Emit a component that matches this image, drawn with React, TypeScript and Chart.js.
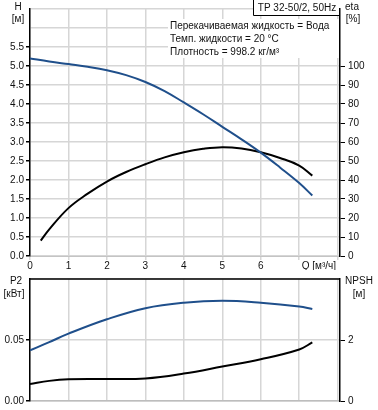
import React, { useEffect, useRef } from 'react';
import { Chart, registerables } from 'chart.js';

Chart.register(...registerables);

// ---- Data ----
const headFlow = [0, 0.5, 1, 1.5, 2, 2.5, 3, 3.5, 4, 4.5, 5, 5.5, 6, 6.5, 7, 7.34];
const headValues = [5.2, 5.12, 5.05, 4.98, 4.89, 4.76, 4.58, 4.34, 4.04, 3.73, 3.4, 3.07, 2.72, 2.33, 1.92, 1.59];

const etaFlow = [0.28, 0.5, 1, 1.5, 2, 2.5, 3, 3.5, 4, 4.5, 5, 5.5, 6, 6.5, 7, 7.34];
const etaValues = [8.1, 14, 25.2, 32.8, 39.2, 44.2, 48.3, 51.9, 54.6, 56.4, 57.3, 56.6, 54.6, 51.6, 47.6, 42.3];

const p2Flow = [0, 0.5, 1, 2, 3, 4, 5, 6, 7, 7.34];
const p2Values = [0.0416, 0.0482, 0.0552, 0.067, 0.0761, 0.0806, 0.0822, 0.0806, 0.0775, 0.0754];

const npshFlow = [0, 0.5, 1, 2, 3, 4, 5, 6, 7, 7.34];
const npshValues = [0.56, 0.66, 0.71, 0.72, 0.74, 0.9, 1.13, 1.37, 1.69, 1.92];

const xTickLabels = ['0', '1', '2', '3', '4', '5', '6'];
const headerText = 'TP 32-50/2, 50Hz';
const infoLines = [
  'Перекачиваемая жидкость = Вода',
  'Темп. жидкости = 20 °C',
  'Плотность = 998.2 кг/м³',
];

const FONT_FAMILY = '"Liberation Sans", Arial, sans-serif';
const TXT = '#111';
const GRID = '#d6d6d6';
const BLUE = '#1f4f8b';

const pts = (xs: number[], ys: number[]) => xs.map((x, i) => ({ x, y: ys[i] }));

export default function App() {
  const topRef = useRef<HTMLCanvasElement | null>(null);
  const botRef = useRef<HTMLCanvasElement | null>(null);

  useEffect(() => {
    const font = { family: FONT_FAMILY, size: 10 };

    const topTexts = {
      id: 'topTexts',
      afterDraw(chart: any) {
        const ctx = chart.ctx;
        ctx.save();
        ctx.fillStyle = '#fff';
        ctx.fillRect(168, 19, 171, 39);
        ctx.font = `10px ${FONT_FAMILY}`;
        ctx.fillStyle = TXT;
        ctx.textBaseline = 'middle';
        ctx.textAlign = 'left';
        infoLines.forEach((t, i) => ctx.fillText(t, 170, 26.5 + i * 13));
        ctx.fillStyle = '#fff';
        ctx.fillRect(253, 0, 86, 15);
        ctx.strokeStyle = '#000';
        ctx.lineWidth = 1;
        ctx.beginPath();
        ctx.moveTo(253.5, 0);
        ctx.lineTo(253.5, 15.5);
        ctx.lineTo(340, 15.5);
        ctx.stroke();
        ctx.fillStyle = TXT;
        ctx.textAlign = 'center';
        ctx.fillText(headerText, 297, 8);
        ctx.fillText('H', 18, 7);
        ctx.fillText('[м]', 18, 19.5);
        ctx.fillText('eta', 352, 7);
        ctx.fillText('[%]', 353, 19.5);
        ctx.textAlign = 'right';
        ctx.fillText('Q [м³/ч]', 336, 266);
        ctx.restore();
      },
    };

    const botTexts = {
      id: 'botTexts',
      afterDraw(chart: any) {
        const ctx = chart.ctx;
        const a = chart.chartArea;
        ctx.save();
        ctx.strokeStyle = '#000';
        ctx.lineWidth = 1.5;
        ctx.beginPath();
        ctx.moveTo(a.left, a.top);
        ctx.lineTo(a.right, a.top);
        ctx.stroke();
        ctx.font = `10px ${FONT_FAMILY}`;
        ctx.fillStyle = TXT;
        ctx.textBaseline = 'middle';
        ctx.textAlign = 'center';
        ctx.fillText('P2', 16, 11.5);
        ctx.fillText('[кВт]', 14, 24);
        ctx.fillText('NPSH', 359, 11.5);
        ctx.fillText('[м]', 359, 24);
        ctx.restore();
      },
    };

    const line = (data: any, color: string, axis: string) => ({
      data,
      borderColor: color,
      borderWidth: 2,
      pointRadius: 0,
      tension: 0.4,
      yAxisID: axis,
    });

    const top = new Chart(topRef.current!, {
      type: 'line',
      data: {
        datasets: [
          line(pts(headFlow, headValues), BLUE, 'y'),
          line(pts(etaFlow, etaValues), '#000', 'eta'),
        ],
      },
      options: {
        responsive: false,
        animation: false,
        events: [],
        layout: { padding: { top: 0, left: 0, right: 0, bottom: 0 } },
        plugins: { legend: { display: false }, tooltip: { enabled: false } },
        scales: {
          x: {
            type: 'linear',
            min: 0,
            max: 8.06,
            afterFit: (s: any) => { s.height = 14; },
            ticks: {
              stepSize: 1,
              includeBounds: false,
              autoSkip: false,
              maxRotation: 0,
              padding: 0,
              font,
              color: TXT,
              callback: (v: any) => (v <= 6 ? xTickLabels[Math.round(v)] : ''),
            },
            grid: { color: GRID, lineWidth: 1.5, tickLength: 4, tickColor: GRID },
            border: { color: '#c4c4c4', width: 1 },
          },
          y: {
            type: 'linear',
            position: 'left',
            min: 0,
            max: 6.5,
            afterFit: (s: any) => { s.width = 30; },
            ticks: {
              stepSize: 0.5,
              padding: 2,
              font,
              color: TXT,
              callback: (v: any) => (v <= 5.5 ? Number(v).toFixed(1) : ''),
            },
            grid: {
              color: GRID,
              lineWidth: 1.5,
              tickLength: 4,
              tickColor: (c: any) => (c.tick && c.tick.value > 5.5 ? 'rgba(0,0,0,0)' : '#000'),
            },
            border: { color: '#000', width: 1.5 },
          },
          eta: {
            type: 'linear',
            position: 'right',
            min: 0,
            max: 130,
            afterFit: (s: any) => { s.width = 38; },
            ticks: {
              stepSize: 10,
              padding: 3,
              font,
              color: TXT,
              callback: (v: any) => (v <= 100 ? String(v) : ''),
            },
            grid: {
              drawOnChartArea: false,
              tickLength: 5,
              color: '#000',
              tickColor: (c: any) => (c.tick && c.tick.value > 100 ? 'rgba(0,0,0,0)' : '#000'),
            },
            border: { color: '#000', width: 1.5 },
          },
        },
      },
      plugins: [topTexts],
    } as any);

    const bot = new Chart(botRef.current!, {
      type: 'line',
      data: {
        datasets: [
          line(pts(p2Flow, p2Values), BLUE, 'p2'),
          line(pts(npshFlow, npshValues), '#000', 'npsh'),
        ],
      },
      options: {
        responsive: false,
        animation: false,
        events: [],
        layout: { padding: { top: 4, left: 0, right: 0, bottom: 0 } },
        plugins: { legend: { display: false }, tooltip: { enabled: false } },
        scales: {
          x: {
            type: 'linear',
            min: 0,
            max: 8.06,
            afterFit: (s: any) => { s.height = 8; },
            ticks: { stepSize: 1, includeBounds: false, display: false },
            grid: { color: GRID, lineWidth: 1.5, drawTicks: false },
            border: { color: '#bdbdbd', width: 1.5 },
          },
          p2: {
            type: 'linear',
            position: 'left',
            min: 0,
            max: 0.1,
            afterFit: (s: any) => { s.width = 30; },
            ticks: {
              stepSize: 0.05,
              padding: 2,
              font,
              color: TXT,
              callback: (v: any) => (v < 0.09 ? Number(v).toFixed(2) : ''),
            },
            grid: {
              color: GRID,
              lineWidth: 1.5,
              tickLength: 4,
              tickColor: (c: any) => (c.tick && c.tick.value > 0.09 ? 'rgba(0,0,0,0)' : '#000'),
            },
            border: { color: '#000', width: 1.5 },
          },
          npsh: {
            type: 'linear',
            position: 'right',
            min: 0,
            max: 4,
            afterFit: (s: any) => { s.width = 38; },
            ticks: {
              stepSize: 2,
              padding: 3,
              font,
              color: TXT,
              callback: (v: any) => (v <= 2 ? String(v) : ''),
            },
            grid: {
              drawOnChartArea: false,
              tickLength: 5,
              color: '#000',
              tickColor: (c: any) => (c.tick && c.tick.value > 2 ? 'rgba(0,0,0,0)' : '#000'),
            },
            border: { color: '#000', width: 1.5 },
          },
        },
      },
      plugins: [botTexts],
    } as any);

    return () => {
      top.destroy();
      bot.destroy();
    };
  }, []);

  return (
    <div style={{ position: 'fixed', left: 0, top: 0, width: 378, height: 410, background: '#fff' }}>
      <canvas ref={topRef} width={378} height={270} style={{ position: 'absolute', left: 0, top: 0, width: 378, height: 270 }} />
      <canvas ref={botRef} width={378} height={140} style={{ position: 'absolute', left: 0, top: 270, width: 378, height: 140 }} />
    </div>
  );
}
